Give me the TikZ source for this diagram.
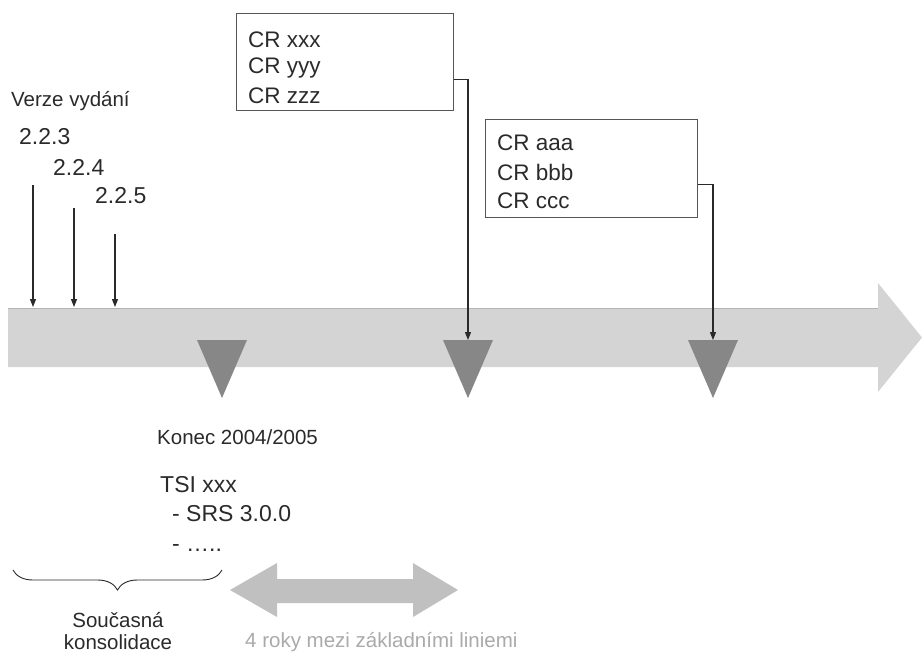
\documentclass[tikz,border=0pt]{standalone}
\usepackage{fontspec}
\setmainfont{Liberation Sans}
\usetikzlibrary{decorations.pathreplacing,arrows.meta}
\definecolor{tc}{HTML}{2A2A2A}
\definecolor{bandc}{HTML}{D4D4D4}
\definecolor{tric}{HTML}{878787}
\definecolor{dblc}{HTML}{C0C0C0}
\definecolor{lightt}{HTML}{AAAAAA}
\begin{document}
\begin{tikzpicture}[x=1pt,y=-1pt,
  lbl/.style={anchor=west,inner sep=0pt,text=tc},
  crbox/.style={draw=tc!80,line width=0.9pt,anchor=north west,inner sep=0pt},
  conn/.style={draw=tc,line width=1.1pt,-{Triangle[length=8pt,width=6pt]}},
  verarr/.style={draw=tc,line width=1.1pt,-{Triangle[length=8pt,width=6pt]}},
  fA/.style={font=\fontsize{22.5}{25}\selectfont},
  fB/.style={font=\fontsize{20.5}{23}\selectfont},
  fC/.style={font=\fontsize{23}{26}\selectfont}]
\useasboundingbox (0,0) rectangle (922,653);
% main timeline arrow
\fill[bandc] (8,308) -- (878,308) -- (878,283) -- (922,337.5) -- (878,392) -- (878,367) -- (8,367) -- cycle;
\draw[bandc!85!black,line width=0.6pt] (8,308) -- (878,308);
% milestone triangles
\fill[tric] (197,340) -- (247,340) -- (222,398) -- cycle;
\fill[tric] (443,340) -- (493,340) -- (468,398) -- cycle;
\fill[tric] (688,340) -- (738,340) -- (713,398) -- cycle;
\coordinate (t2) at (468,340);
\coordinate (t3) at (713,340);
% CR boxes
\node[crbox,minimum width=217pt,minimum height=97pt] (b1) at (236,13) {};
\node[lbl,fA] (c1) at (248,40) {CR xxx};
\node[lbl,fA] (c2) at (248,68) {CR yyy};
\node[lbl,fA] (c3) at (248,96) {CR zzz};
\node[crbox,minimum width=212pt,minimum height=98pt] (b2) at (485,119) {};
\node[lbl,fA] (d1) at (497,143) {CR aaa};
\node[lbl,fA] (d2) at (497,172) {CR bbb};
\node[lbl,fA] (d3) at (497,201) {CR ccc};
\draw[conn] ([yshift=-17.5pt]b1.east) -| (t2);
\draw[conn] ([yshift=-16pt]b2.east) -| (t3);
% versions
\node[lbl,fB] (vv) at (11,101) {Verze vydání};
\node[lbl,fC] (v1) at (19,137) {2.2.3};
\node[lbl,fC] (v2) at (53,167) {2.2.4};
\node[lbl,fC] (v3) at (95,196) {2.2.5};
\coordinate (a1s) at (33,185); \coordinate (a1e) at (33,307);
\coordinate (a2s) at (74,208); \coordinate (a2e) at (74,307);
\coordinate (a3s) at (115,234); \coordinate (a3e) at (115,307);
\draw[verarr] (a1s) -- (a1e);
\draw[verarr] (a2s) -- (a2e);
\draw[verarr] (a3s) -- (a3e);
% bottom texts
\node[lbl,fB] (kon) at (157,437) {Konec 2004/2005};
\node[lbl,fC] (tsi) at (160,485) {TSI xxx};
\node[lbl,fC] (srs) at (172,514) {- SRS 3.0.0};
\node[lbl,fC] (dots) at (172,548) {- …..};
% brace
\coordinate (br1) at (13,570);
\coordinate (br2) at (222,570);
\draw[tc,line width=0.9pt,decorate,decoration={brace,mirror,amplitude=20pt,aspect=0.5}] (br1) -- (br2);
\node[anchor=center,inner sep=0pt,text=tc,fB,align=center] (sk1) at (118,620) {Současná};
\node[anchor=center,inner sep=0pt,text=tc,fB,align=center] (sk2) at (118,642) {konsolidace};
% double arrow
\fill[dblc] (230,590) -- (277,563) -- (277,579) -- (413,579) -- (413,563) -- (458,590) -- (413,617) -- (413,603) -- (277,603) -- (277,617) -- cycle;
\node[lbl,fB,text=lightt] (roky) at (245,642) {4 roky mezi základními liniemi};
\end{tikzpicture}
\end{document}
